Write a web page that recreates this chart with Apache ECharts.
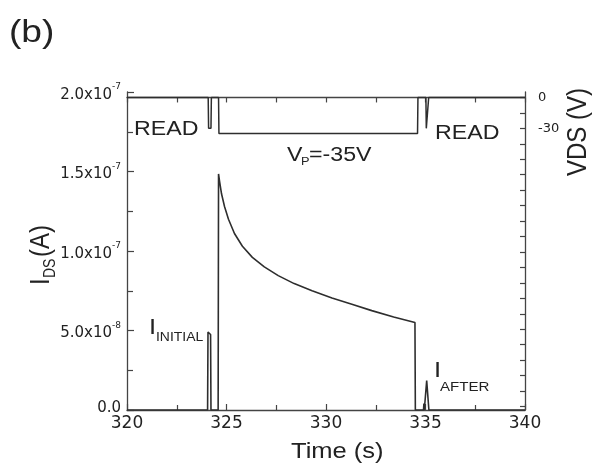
<!DOCTYPE html>
<html>
<head>
<meta charset="utf-8">
<script src="https://cdn.jsdelivr.net/npm/echarts@6/dist/echarts.min.js"></script>
<style>
  html, body { margin: 0; padding: 0; background: #fff; }
  #chart { width: 595px; height: 475px; }
</style>
</head>
<body>
<div id="chart"></div>
<script>
// Drain current I_DS (A) versus time (s): read pulse, program transient, read pulse
const idsTime = [320, 324.05, 324.07, 324.14, 324.2, 324.22, 324.58, 324.6, 324.65, 324.75, 324.9, 325.1, 325.4, 325.8, 326.3, 326.9, 327.6, 328.4, 329.3, 330.3, 331.3, 332.3, 333.4, 334.47, 334.49, 334.9, 334.92, 334.94, 335.02, 335.06, 335.12, 335.17, 340];
const idsValue = [0, 0, 4.9e-8, 4.85e-8, 4.75e-8, 0, 0, 1.485e-7, 1.44e-7, 1.36e-7, 1.28e-7, 1.2e-7, 1.11e-7, 1.03e-7, 9.6e-8, 9.0e-8, 8.45e-8, 7.95e-8, 7.5e-8, 7.05e-8, 6.65e-8, 6.25e-8, 5.85e-8, 5.5e-8, 0, 0, 0.4e-8, 0, 0, 1.85e-8, 1.8e-8, 0, 0];

// Applied drain voltage V_DS (V)
const vdsTime = [320, 324.08, 324.1, 324.22, 324.24, 324.6, 324.62, 334.6, 334.62, 335.02, 335.04, 335.14, 335.16, 340];
const vdsValue = [0, 0, -30, -30, 0, 0, -35, -35, 0, 0, -30, -30, 0, 0];

// Axis ranges and tick marks
const timeRange = [320, 340];
const idsRange = [0, 2e-7];
const vdsRange = [-303.4, 5.3];
const vdsTicks = [0, -15, -30, -45, -60, -75, -90, -105, -120, -135, -150, -165, -180, -195, -210, -225, -240, -255, -270, -285, -300];
const vdsTickLabels = [0, -30];

const INK = '#2e2e2e';
const TXT = '#222';
const SANS = 'Liberation Sans, Arial, sans-serif';
const NUM = 'DejaVu Sans, sans-serif';

function sciLabel(v) {
  if (v === 0) return '{z|0.0}';
  const e = Math.floor(Math.log10(v) + 1e-9);
  const m = (v / Math.pow(10, e)).toFixed(1);
  return '{m|' + m + 'x10}{e|' + e + '}';
}

const axisLineStyle = { lineStyle: { color: '#444', width: 1.3 } };

const chart = echarts.init(document.getElementById('chart'), null, { renderer: 'canvas' });

const pts = (xs, ys) => xs.map((x, i) => [x, ys[i]]);

const stretchText = (x, y, text, size, extra) => Object.assign({
  type: 'text', x: x, y: y, scaleX: 1.16,
  style: { text: text, fontSize: size, fontFamily: SANS, fill: TXT, textAlign: 'left', textVerticalAlign: 'middle' }
}, extra || {});

chart.setOption({
  animation: false,
  backgroundColor: '#fff',
  grid: { left: 127, right: 70, top: 92, bottom: 65, containLabel: false },
  xAxis: [
    {
      type: 'value', position: 'bottom', min: timeRange[0], max: timeRange[1], interval: 5,
      axisLine: axisLineStyle,
      axisTick: { inside: true, length: 6, lineStyle: { color: '#444', width: 1.2 } },
      minorTick: { show: true, splitNumber: 2, length: 5, lineStyle: { color: '#444', width: 1.2 } },
      splitLine: { show: false },
      axisLabel: { fontFamily: NUM, fontSize: 17, color: TXT, margin: 5 }
    },
    {
      type: 'value', position: 'top', min: timeRange[0], max: timeRange[1], interval: 5,
      axisLine: axisLineStyle,
      axisTick: { inside: true, length: 5, lineStyle: { color: '#444', width: 1.2 } },
      minorTick: { show: true, splitNumber: 2, length: 5, lineStyle: { color: '#444', width: 1.2 } },
      splitLine: { show: false },
      axisLabel: { show: false }
    }
  ],
  yAxis: [
    {
      type: 'value', position: 'left', min: idsRange[0], max: idsRange[1], interval: 5e-8,
      axisLine: axisLineStyle,
      axisTick: { inside: true, length: 7, lineStyle: { color: '#444', width: 1.2 } },
      minorTick: { show: true, splitNumber: 2, length: 6, lineStyle: { color: '#444', width: 1.2 } },
      splitLine: { show: false },
      axisLabel: {
        margin: 6, formatter: sciLabel, padding: [6, 0, 0, 0],
        rich: {
          m: { fontFamily: NUM, fontSize: 15, color: TXT, height: 24, lineHeight: 24, verticalAlign: 'bottom' },
          e: { fontFamily: NUM, fontSize: 9, color: TXT, height: 8, lineHeight: 8, verticalAlign: 'top' },
          z: { fontFamily: NUM, fontSize: 15, color: TXT, lineHeight: 18, padding: [0, 0, 10, 0] }
        }
      }
    },
    {
      type: 'value', position: 'right', min: vdsRange[0], max: vdsRange[1],
      axisLine: axisLineStyle,
      axisTick: { inside: true, length: 5, customValues: vdsTicks, lineStyle: { color: '#444', width: 1.2 } },
      splitLine: { show: false },
      axisLabel: { customValues: vdsTickLabels, fontFamily: NUM, fontSize: 13, color: TXT, margin: 13 }
    }
  ],
  series: [
    {
      name: 'IDS', type: 'line', xAxisIndex: 0, yAxisIndex: 0,
      data: pts(idsTime, idsValue), showSymbol: false, smooth: false,
      lineStyle: { color: INK, width: 1.6 }
    },
    {
      name: 'VDS', type: 'line', xAxisIndex: 0, yAxisIndex: 1,
      data: pts(vdsTime, vdsValue), showSymbol: false, smooth: false,
      lineStyle: { color: INK, width: 1.5 }
    }
  ],
  graphic: [
    stretchText(9, 33, '(b)', 32),
    stretchText(134, 129, 'READ', 20),
    stretchText(435, 133, 'READ', 20),
    stretchText(287, 155, 'V', 20),
    stretchText(301, 162, 'P', 11),
    stretchText(309, 155, '=-35V', 20),
    stretchText(149, 328, 'I', 22),
    stretchText(156, 338, 'INITIAL', 12),
    stretchText(434, 371, 'I', 22),
    stretchText(440, 387, 'AFTER', 13),
    stretchText(291, 452, 'Time (s)', 22),
    {
      type: 'group', x: 41, y: 247, rotation: Math.PI / 2, scaleY: 1.16,
      children: [
        { type: 'text', x: -38, y: 0, style: { text: 'I', fontSize: 24, fontFamily: SANS, fill: TXT, textAlign: 'left', textVerticalAlign: 'middle' } },
        { type: 'text', x: -31, y: 8, style: { text: 'DS', fontSize: 14, fontFamily: SANS, fill: TXT, textAlign: 'left', textVerticalAlign: 'middle' } },
        { type: 'text', x: -10, y: 0, style: { text: '(A)', fontSize: 24, fontFamily: SANS, fill: TXT, textAlign: 'left', textVerticalAlign: 'middle' } }
      ]
    },
    {
      type: 'text', x: 578, y: 132, rotation: Math.PI / 2, scaleY: 1.16,
      style: { text: 'VDS (V)', fontSize: 24, fontFamily: SANS, fill: TXT, textAlign: 'center', textVerticalAlign: 'middle' }
    }
  ]
});
</script>
</body>
</html>
